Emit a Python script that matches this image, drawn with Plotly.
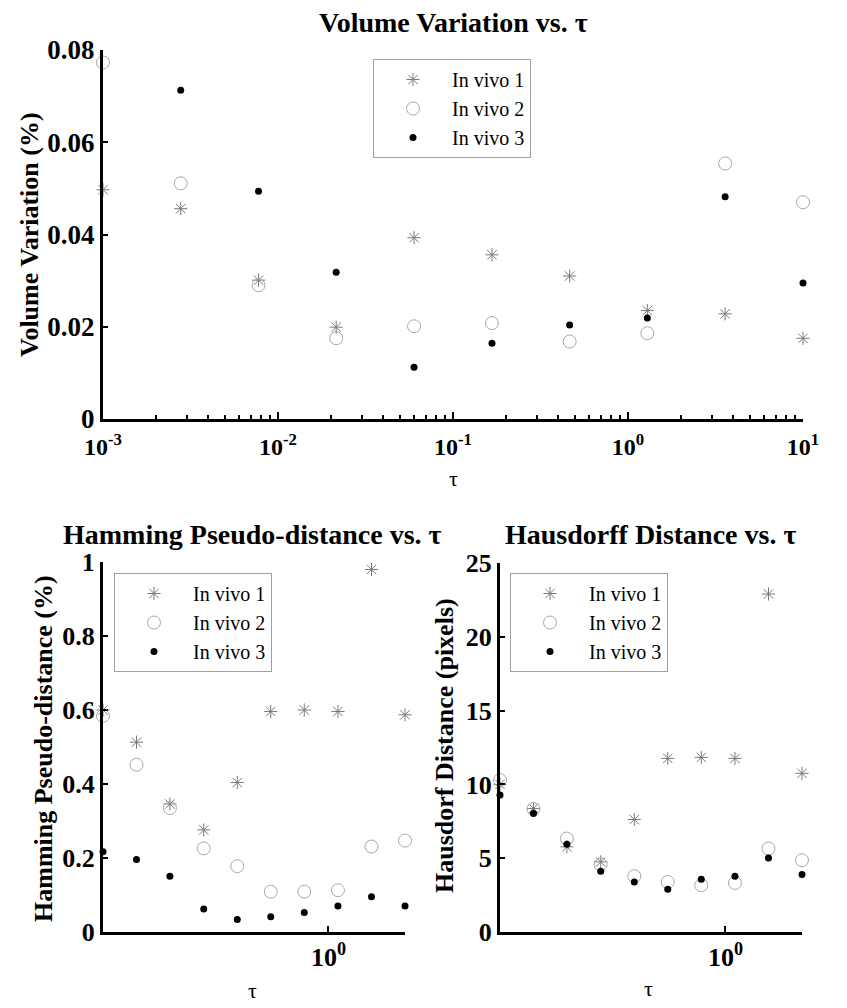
import math
import plotly.graph_objects as go

# ---------------- data ----------------
tau_top = [0.001, 0.00278, 0.00774, 0.0215, 0.0599, 0.167, 0.464, 1.29, 3.59, 10.0]
vol_vivo1 = [0.0497, 0.0456, 0.0301, 0.0199, 0.0393, 0.0356, 0.0310, 0.0235, 0.0228, 0.0175]
vol_vivo2 = [0.0773, 0.0511, 0.0290, 0.0175, 0.0201, 0.0208, 0.0168, 0.0186, 0.0554, 0.0470]
vol_vivo3 = [None, 0.0713, 0.0494, 0.0318, 0.0112, 0.0164, 0.0204, 0.0219, 0.0482, 0.0295]

tau_bottom = [0.213, 0.268, 0.337, 0.425, 0.535, 0.673, 0.847, 1.067, 1.343, 1.690]
ham_vivo1 = [0.600, 0.513, 0.346, 0.276, 0.404, 0.596, 0.600, 0.596, 0.980, 0.587]
ham_vivo2 = [0.584, 0.452, 0.335, 0.226, 0.178, 0.109, 0.109, 0.113, 0.231, 0.247]
ham_vivo3 = [0.217, 0.196, 0.151, 0.062, 0.034, 0.041, 0.053, 0.070, 0.095, 0.070]

hd_vivo1 = [10.0, 8.37, 5.77, 4.75, 7.62, 11.76, 11.83, 11.76, 22.9, 10.75]
hd_vivo2 = [10.29, 8.33, 6.33, 4.57, 3.78, 3.39, 3.17, 3.33, 5.66, 4.86]
hd_vivo3 = [9.28, 8.03, 5.95, 4.12, 3.39, 2.90, 3.57, 3.78, 5.02, 3.89]

series_names = ["In vivo 1", "In vivo 2", "In vivo 3"]
top_xticks = [1e-3, 1e-2, 1e-1, 1, 10]
top_xticktext = ["10<sup>-3</sup>", "10<sup>-2</sup>", "10<sup>-1</sup>", "10<sup>0</sup>", "10<sup>1</sup>"]

# ---------------- style ----------------
FONT = "Liberation Serif"
OFF = 8                     # page body margin in the browser
W, H = 847 - OFF, 1008 - OFF  # figure size so the page fits the window
styles = [
    dict(symbol="asterisk-open", size=11, color="#7a7a7a", line=dict(color="#7a7a7a", width=1)),
    dict(symbol="circle-open", size=13, color="#a8a8a8", line=dict(color="#a8a8a8", width=1)),
    dict(symbol="circle", size=7, color="black", line=dict(width=0)),
]

fig = go.Figure()

panels = [
    ("x", "y", "legend", tau_top, [vol_vivo1, vol_vivo2, vol_vivo3]),
    ("x2", "y2", "legend2", tau_bottom, [ham_vivo1, ham_vivo2, ham_vivo3]),
    ("x3", "y3", "legend3", tau_bottom, [hd_vivo1, hd_vivo2, hd_vivo3]),
]
for xa, ya, lg, xs, ys_list in panels:
    for name, ys, st in zip(series_names, ys_list, styles):
        fig.add_trace(go.Scatter(
            x=xs, y=ys, mode="markers", name=name, marker=st,
            xaxis=xa, yaxis=ya, legend=lg, cliponaxis=False,
        ))

def fx(px):
    return (px - OFF) / W

def fy(py):
    return 1 - (py - OFF) / H

def px_x(a, b):
    return [fx(a), fx(b)]

def px_y(top, bottom):
    return [fy(bottom), fy(top)]

base = dict(showline=True, linecolor="black", linewidth=3, ticks="inside",
            tickcolor="black", tickwidth=2, showgrid=False, zeroline=False,
            mirror=False, automargin=False)

minor_vals = [m * 10 ** e for e in range(-3, 1) for m in range(2, 10)]

fig.update_layout(
    template="none",
    width=W, height=H,
    margin=dict(l=0, r=0, t=0, b=0, autoexpand=False),
    paper_bgcolor="white", plot_bgcolor="white",
    showlegend=True,
    xaxis=dict(**base, type="log", range=[-3, 1], domain=px_x(103, 803), anchor="y",
               tickmode="array", tickvals=top_xticks, ticktext=top_xticktext, ticklen=7,
               ticklabelstandoff=4,
               minor=dict(ticks="inside", ticklen=4, tickwidth=2, tickcolor="black",
                          tickmode="array", tickvals=minor_vals),
               tickfont=dict(family=FONT, size=24, color="black", weight="bold")),
    yaxis=dict(**base, range=[0, 0.08], dtick=0.02, domain=px_y(50, 419), anchor="x",
               ticklen=5, tickfont=dict(family=FONT, size=27, color="black", weight="bold")),
    xaxis2=dict(**base, type="log",
                range=[math.log10(tau_bottom[0]), math.log10(tau_bottom[-1])],
                domain=px_x(103, 405), anchor="y2", tickmode="array", tickvals=[1],
                ticktext=["10<sup>0</sup>"], ticklen=6,
                tickfont=dict(family=FONT, size=26, color="black", weight="bold")),
    yaxis2=dict(**base, range=[0, 1], dtick=0.2, domain=px_y(562, 932), anchor="x2",
                ticklen=5, tickfont=dict(family=FONT, size=26, color="black", weight="bold")),
    xaxis3=dict(**base, type="log",
                range=[math.log10(tau_bottom[0]), math.log10(tau_bottom[-1])],
                domain=px_x(500, 802), anchor="y3", tickmode="array", tickvals=[1],
                ticktext=["10<sup>0</sup>"], ticklen=6,
                tickfont=dict(family=FONT, size=26, color="black", weight="bold")),
    yaxis3=dict(**base, range=[0, 25], dtick=5, domain=px_y(563, 932), anchor="x3",
                ticklen=5, tickfont=dict(family=FONT, size=26, color="black", weight="bold")),
)

leg = dict(xanchor="left", yanchor="top", bordercolor="#a0a0a0", borderwidth=1,
           bgcolor="white", font=dict(family=FONT, size=20, color="black"),
           itemwidth=68, tracegroupgap=0, xref="paper", yref="paper")
fig.update_layout(
    legend=dict(**leg, x=fx(373), y=fy(59)),
    legend2=dict(**leg, x=fx(114), y=fy(573)),
    legend3=dict(**leg, x=fx(510), y=fy(573)),
)

def ann(text, x, y, size, bold=True, angle=0):
    fig.add_annotation(
        text=("<b>%s</b>" % text) if bold else text,
        x=fx(x), y=fy(y), xref="paper", yref="paper",
        xanchor="center", yanchor="middle", showarrow=False, textangle=angle,
        font=dict(family=FONT, size=size, color="black"),
    )

ann("Volume Variation vs. τ", 453, 22, 28)
ann("Hamming Pseudo-distance vs. τ", 252, 534, 28)
ann("Hausdorff Distance vs. τ", 650, 534, 28)
ann("Volume Variation (%)", 30, 235, 26, angle=-90)
ann("Hamming Pseudo-distance (%)", 43, 749, 26, angle=-90)
ann("Hausdorf Distance (pixels)", 444, 746, 26, angle=-90)
ann("τ", 453, 478, 22, bold=False)
ann("τ", 252, 990, 22, bold=False)
ann("τ", 648, 988, 22, bold=False)

fig.write_html("out.html")
